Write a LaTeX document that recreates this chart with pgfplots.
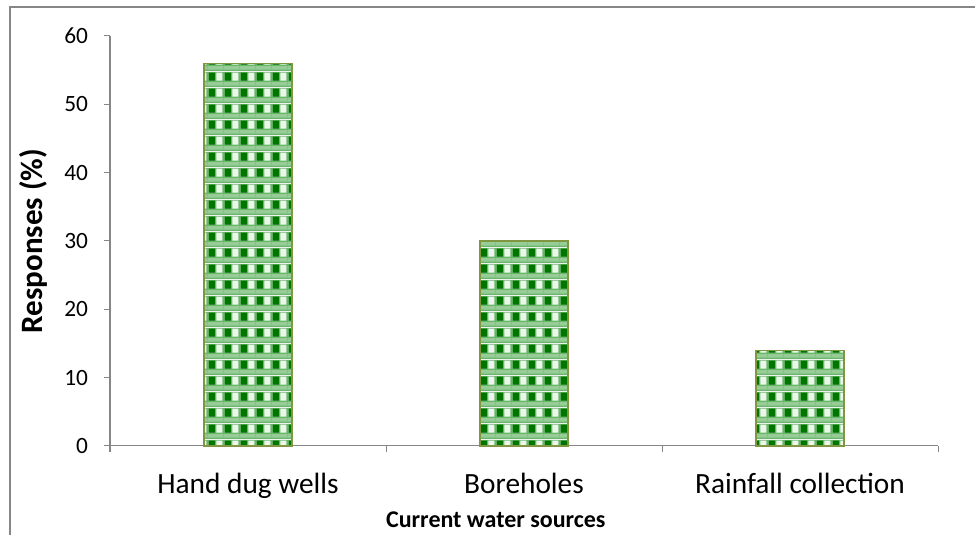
\documentclass[border=0pt]{standalone}
\usepackage{pgfplots}
\pgfplotsset{compat=1.18}
\usepackage{fontspec}
\setmainfont{Carlito}
\usetikzlibrary{patterns.meta}
\definecolor{axgray}{RGB}{134,134,134}
\definecolor{dkgreen}{RGB}{0,118,0}
\definecolor{ltgreen}{RGB}{108,182,108}
\definecolor{bandgreen}{RGB}{150,205,150}
\definecolor{barborder}{RGB}{128,150,64}
\tikzdeclarepattern{
  name=greencheck,
  type=colored,
  bottom left={(0pt,0pt)},
  top right={(12pt,12pt)},
  tile size={(12pt,12pt)},
  code={
    \fill[ltgreen] (0pt,0pt) rectangle (12pt,12pt);
    \fill[dkgreen] (0.6pt,5.0pt) rectangle (5.4pt,11.4pt);
    \fill[white!88!ltgreen] (6.6pt,5.0pt) rectangle (11.4pt,11.4pt);
    \fill[bandgreen] (0pt,1.0pt) rectangle (12pt,3.8pt);
  }
}
\begin{document}
\begin{tikzpicture}
\useasboundingbox (0,0) rectangle (731.25pt,401.25pt);
\draw[axgray, line width=1.5pt] (7.5pt,0) -- (7.5pt,396pt) -- (731.25pt,396pt);
\begin{axis}[
  at={(82.5pt,66.75pt)}, anchor=south west,
  scale only axis, width=621pt, height=307.5pt,
  xmin=-0.5, xmax=2.5, ymin=0, ymax=60,
  ybar, bar width=0.32,
  axis lines*=left,
  axis line style={axgray, line width=0.75pt, -},
  ytick={0,10,...,60},
  tick align=outside,
  major tick length=4.5pt,
  minor tick length=4.5pt,
  every tick/.style={axgray, line width=0.75pt},
  xtick={0,1,2},
  xticklabels={Hand dug wells, Boreholes, Rainfall collection},
  major x tick style={draw=none},
  minor xtick={-0.5,0.5,1.5,2.5},
  /pgf/number format/assume math mode=true,
  yticklabel style={font=\fontsize{17.5}{20}\selectfont, xshift=-8.5pt},
  xticklabel style={font=\fontsize{22}{24}\selectfont, yshift=-12pt},
  xlabel={\textbf{Current water sources}},
  ylabel={\textbf{Responses (\%)}},
  xlabel style={font=\fontsize{18}{20}\selectfont, at={(axis description cs:0.466,-0.18)}, anchor=center},
  ylabel style={font=\fontsize{23.3}{26}\selectfont, at={(axis description cs:-0.092,0.5)}, anchor=center},
  clip=false,
]
\addplot[draw=barborder, line width=1.2pt, pattern=greencheck] coordinates {(0,56) (1,30) (2,14)};
\end{axis}
\end{tikzpicture}
\end{document}
